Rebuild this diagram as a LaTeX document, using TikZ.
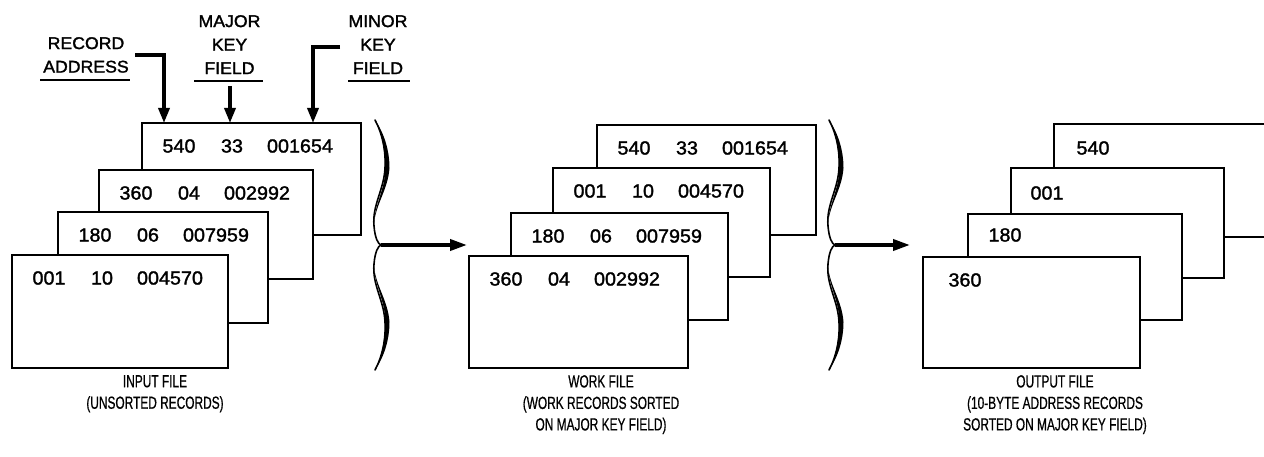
\documentclass[tikz,border=0pt]{standalone}
\usepackage{fontspec}
\setmainfont{Liberation Sans}
\newfontfamily\narrowfont{Liberation Sans}[FakeStretch=0.68,FakeBold=0.6]
\newfontfamily\heavyfont{Liberation Sans}[FakeBold=1.6,FakeStretch=1.04]
\usetikzlibrary{arrows.meta,calc}
\newcommand\mkcard[5]{\node[cardbox,minimum width=#4pt,minimum height=#5pt] (#1) at (#2,#3) {};}
\newcommand\rectext[4]{%
  \node[celltext] (#1a) at ($(#1.north west)+(37,23)$) {#2};
  \node[celltext] (#1b) at ($(#1.north west)+(90,23)$) {#3};
  \node[celltext] (#1c) at ($(#1.north west)+(158,23)$) {#4};}
\newcommand\bracedraw[2]{%
  \begin{scope}[shift={(#1,#2)}]
    \fill (0,-125) .. controls (9,-112) and (14.5,-95) .. (14.5,-77) .. controls (13,-55) and (0,-40) .. (-1,-20)
      .. controls (-1,-40) and (11,-57) .. (10,-77) .. controls (10,-95) and (7,-112) .. (0,-125) -- cycle;
    \fill (0,125) .. controls (9,112) and (14.5,95) .. (14.5,77) .. controls (13,55) and (0,40) .. (-1,20)
      .. controls (-1,40) and (11,57) .. (10,77) .. controls (10,95) and (7,112) .. (0,125) -- cycle;
    \draw[bracestroke] (0,-125) .. controls (7,-112) and (11,-95) .. (10,-77) .. controls (9,-55) and (-3,-40) .. (-1,-19)
      .. controls (0,-7) and (3,-1) .. (6,0) .. controls (3,1) and (0,7) .. (-1,19)
      .. controls (-3,40) and (9,55) .. (10,77) .. controls (11,95) and (7,112) .. (0,125);
  \end{scope}}
\begin{document}
\begin{tikzpicture}[x=1pt,y=-1pt,
  cardbox/.style={draw,line width=2.6pt,fill=white,anchor=north west,inner sep=0pt,outer sep=0pt},
  celltext/.style={inner sep=0pt,font=\heavyfont\fontsize{19}{22}\selectfont},
  toplabel/.style={inner sep=0pt,align=center,anchor=north,font=\heavyfont\fontsize{17}{23.5}\selectfont},
  botlabel/.style={inner sep=0pt,align=center,anchor=north,font=\narrowfont\fontsize{17.5}{21.5}\selectfont},
  pointer/.style={line width=3.4pt,-{Triangle[length=15pt,width=11pt]}},
  bigarrow/.style={line width=3.6pt,-{Triangle[length=17pt,width=11pt]}},
  uline/.style={line width=2pt},
  bracestroke/.style={line width=1.6pt,line cap=round}]
\clip (0,0) rectangle (1264,457);
% ---------------- input file
\mkcard{A1}{142}{123}{219}{112}
\rectext{A1}{540}{33}{001654}
\mkcard{A2}{99}{170}{214}{109}
\rectext{A2}{360}{04}{002992}
\mkcard{A3}{58}{212}{210}{111}
\rectext{A3}{180}{06}{007959}
\mkcard{A4}{12}{255}{216}{113}
\rectext{A4}{001}{10}{004570}
% ---------------- work file
\mkcard{W1}{597}{125}{219}{110}
\rectext{W1}{540}{33}{001654}
\mkcard{W2}{553}{168}{217}{109}
\rectext{W2}{001}{10}{004570}
\mkcard{W3}{511}{213}{217}{107}
\rectext{W3}{180}{06}{007959}
\mkcard{W4}{469}{256}{219}{112}
\rectext{W4}{360}{04}{002992}
% ---------------- output file
\mkcard{O1}{1054}{124}{216}{113}
\node[celltext] (O1a) at ($(O1.north west)+(39,24)$) {540};
\mkcard{O2}{1011}{168}{213}{110}
\node[celltext] (O2a) at ($(O2.north west)+(36,25)$) {001};
\mkcard{O3}{968}{214}{214}{106}
\node[celltext] (O3a) at ($(O3.north west)+(37,21)$) {180};
\mkcard{O4}{923}{257}{217}{111}
\node[celltext] (O4a) at ($(O4.north west)+(42,23)$) {360};
% ---------------- top labels
\node[toplabel] (rec) at (86,37) {RECORD\\ADDRESS};
\node[toplabel] (maj) at (229.5,15) {MAJOR\\KEY\\FIELD};
\node[toplabel] (min) at (378,15) {MINOR\\KEY\\FIELD};
\draw[uline] (40,80) -- (130,80);
\draw[uline] (194,81) -- (263,81);
\draw[uline] (348,81) -- (410,81);
\coordinate (recstart) at (135,55);
\coordinate (majstart) at (230,86);
\coordinate (minstart) at (340,47);
\draw[pointer] (recstart) -| ($(A1.north west)+(22,0)$);
\draw[pointer] (majstart) -- ($(A1.north west)+(88,0)$);
\draw[pointer] (minstart) -| ($(A1.north west)+(171,0)$);
% ---------------- braces and arrows
\bracedraw{375}{245}
\bracedraw{829}{245}
\coordinate (b1) at (381,245);
\coordinate (b1end) at (467,245);
\coordinate (b2) at (835,245);
\coordinate (b2end) at (910,245);
\draw[bigarrow] (b1) -- (b1end);
\draw[bigarrow] (b2) -- (b2end);
% ---------------- bottom labels
\node[botlabel] (inlab) at (155,375) {INPUT FILE\\(UNSORTED RECORDS)};
\node[botlabel] (wklab) at (601,375) {WORK FILE\\(WORK RECORDS SORTED\\ON MAJOR KEY FIELD)};
\node[botlabel] (outlab) at (1055,375) {OUTPUT FILE\\(10-BYTE ADDRESS RECORDS\\SORTED ON MAJOR KEY FIELD)};
\end{tikzpicture}
\end{document}
